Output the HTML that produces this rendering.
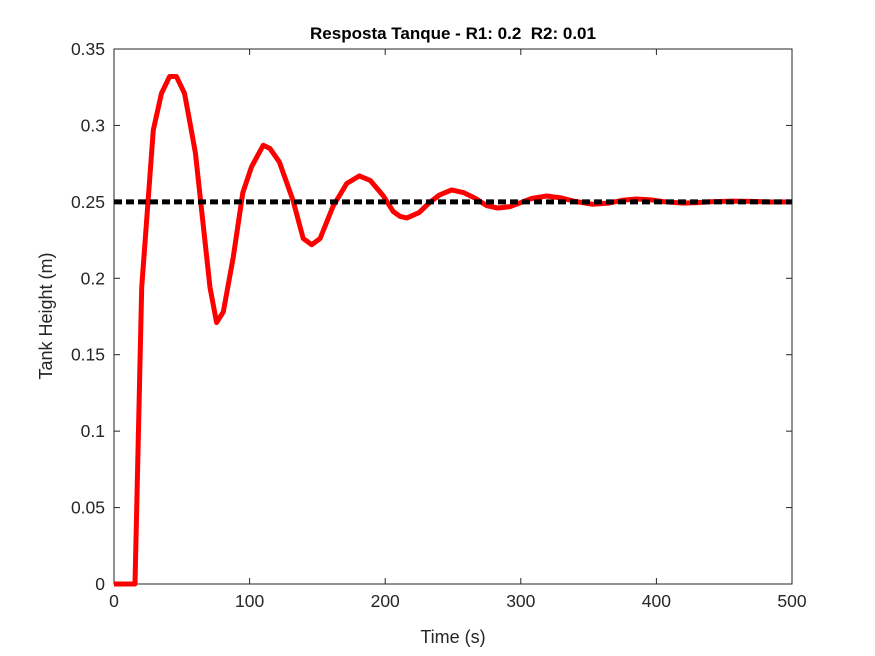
<!DOCTYPE html>
<html><head><meta charset="utf-8"><style>
body{margin:0;background:#fff}
svg{display:block;font-family:"Liberation Sans",sans-serif}
</style></head><body>
<svg id="chart" width="875" height="656" viewBox="0 0 875 656">
<rect x="0" y="0" width="875" height="656" fill="#fff"/>
<text x="453" y="39" text-anchor="middle" font-size="17" font-weight="bold" fill="#000" style="white-space:pre">Resposta Tanque - R1: 0.2  R2: 0.01</text>
<g id="axes"></g>
<g id="plot"></g>
<text x="453" y="643" text-anchor="middle" font-size="18" fill="#262626">Time (s)</text>
<text transform="translate(52,316) rotate(-90)" text-anchor="middle" font-size="18" fill="#262626">Tank Height (m)</text>
</svg>
<script>
const times=[0,15,15.5,20.4,29,35,41,46,52,56,60,70.8,75.7,80.6,88,95,101.5,110,115,122,132,139.5,145.8,152,161.5,171.6,181,189,198.5,206,211,216,225,232,240,249,258,266,275,283,292,300,308,319,330,340,353,365,375,385,395,405,420,430,440,456,470,485,500];
const heights=[0,0,0,0.194,0.297,0.321,0.332,0.332,0.321,0.302,0.282,0.194,0.171,0.178,0.214,0.256,0.273,0.287,0.285,0.276,0.251,0.226,0.222,0.226,0.247,0.262,0.267,0.264,0.254,0.2436,0.2405,0.2395,0.243,0.249,0.2545,0.2578,0.256,0.2525,0.2475,0.246,0.2468,0.2495,0.2522,0.2538,0.2525,0.2503,0.2484,0.2492,0.251,0.2519,0.2514,0.2502,0.2492,0.2495,0.2501,0.2505,0.2503,0.2499,0.25];
const setpoint=[0.25];
const xTicks=[0,100,200,300,400,500];
const yTicks=[0,0.05,0.1,0.15,0.2,0.25,0.3,0.35];
const yTickLabels=["0","0.05","0.1","0.15","0.2","0.25","0.3","0.35"];
const X0=114,X1=792,Y0=584,Y1=49;
const xs=t=>X0+(t-0)/(500)*(X1-X0);
const ys=v=>Y0-(v/0.35)*(Y0-Y1);
const NS="http://www.w3.org/2000/svg";
const axes=document.getElementById('axes');
const plot=document.getElementById('plot');
function mk(tag,attrs,parent){const e=document.createElementNS(NS,tag);for(const k in attrs)e.setAttribute(k,attrs[k]);parent.appendChild(e);return e;}
const box=mk('rect',{x:X0,y:Y1,width:X1-X0,height:Y0-Y1,fill:'none',stroke:'#262626','stroke-width':1},axes);


xTicks.forEach(t=>{
  const x=xs(t);
  const a=mk('line',{x1:x,x2:x,y1:Y0,y2:Y0-6,stroke:'#262626'},axes);
  
  
  const b=mk('line',{x1:x,x2:x,y1:Y1,y2:Y1+6,stroke:'#262626'},axes);
  
  
  const l=mk('text',{x:x,y:Y0+23,'text-anchor':'middle','font-size':17.5,fill:'#262626'},axes);
  l.textContent=String(t);
  
  
});
yTicks.forEach((v,i)=>{
  const y=ys(v);
  const a=mk('line',{x1:X0,x2:X0+6,y1:y,y2:y,stroke:'#262626'},axes);
  
  
  const b=mk('line',{x1:X1,x2:X1-6,y1:y,y2:y,stroke:'#262626'},axes);
  
  
  const l=mk('text',{x:X0-9,y:y+6,'text-anchor':'end','font-size':17.5,fill:'#262626'},axes);
  l.textContent=yTickLabels[i];
  
  
});
const pts=times.map((t,i)=>xs(t).toFixed(1)+','+ys(heights[i]).toFixed(1)).join(' ');
const resp=mk('polyline',{points:pts,fill:'none',stroke:'#ff0000','stroke-width':5,'stroke-linejoin':'round'},plot);


const sp=mk('line',{x1:X0,x2:X1,y1:ys(setpoint[0]),y2:ys(setpoint[0]),stroke:'#000','stroke-width':5,'stroke-dasharray':'8,4'},plot);


</script>
</body></html>
